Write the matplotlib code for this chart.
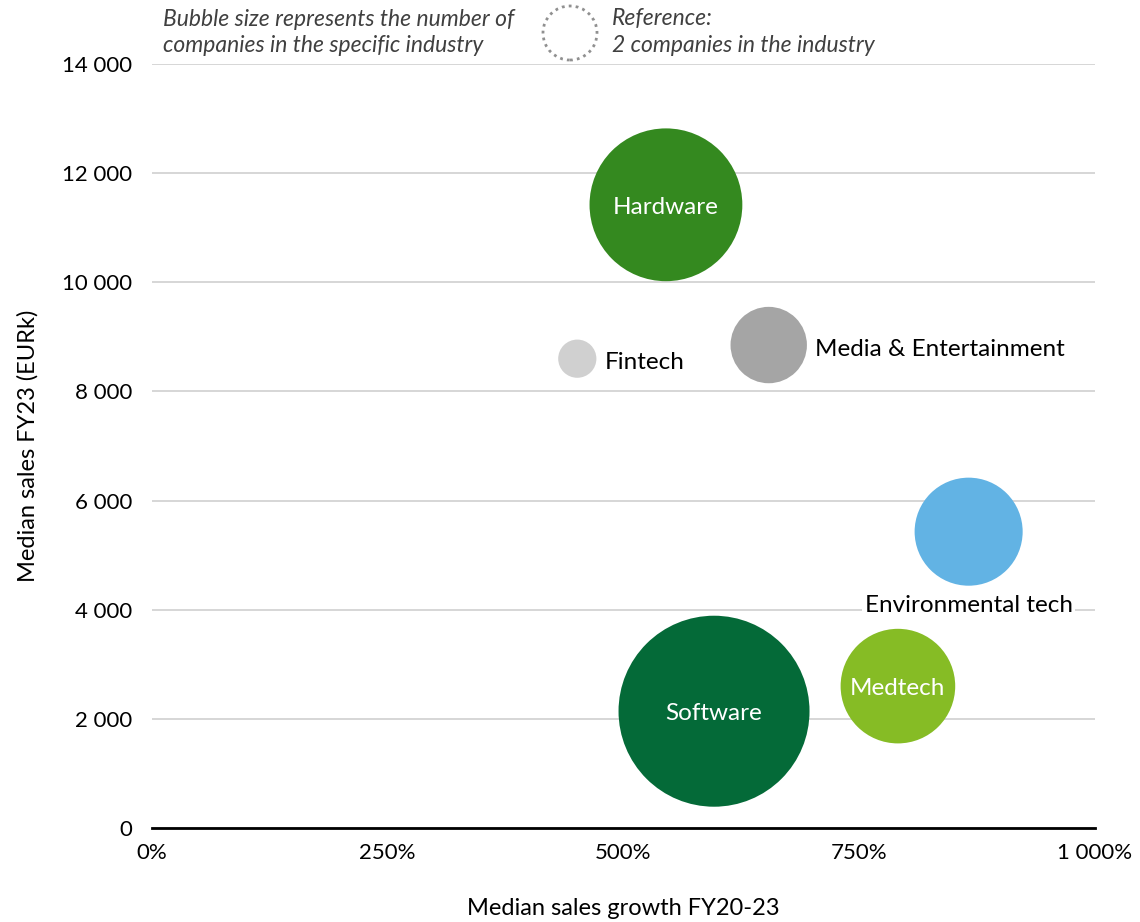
import numpy as np
import matplotlib.pyplot as plt
from matplotlib.patches import Circle
from matplotlib.ticker import FuncFormatter

# industries, growth (%), median sales (EURk), number of companies
industries = ['Hardware', 'Fintech', 'Media & Entertainment', 'Environmental tech', 'Medtech', 'Software']
growth = [545, 451, 654, 866, 791, 596]
sales = [11420, 8600, 8850, 5430, 2600, 2140]
companies = [16, 1, 4, 8, 9, 25]
colors = ['#34891F', '#D0D0D0', '#A5A5A5', '#62B3E4', '#86BC25', '#046A38']
reference_companies = 2

x_ticks = [0, 250, 500, 750, 1000]
y_ticks = [0, 2000, 4000, 6000, 8000, 10000, 12000, 14000]

plt.rcParams['font.family'] = ['Lato', 'DejaVu Sans']

W, H, DPI = 1140, 922, 100
fig = plt.figure(figsize=(W / DPI, H / DPI), dpi=DPI, facecolor='white')
ax = fig.add_axes([152 / W, 1 - 828 / H, (1095 - 152) / W, (828 - 64) / H])

# radius in pixels for one company
unit_px = 19.1


def bubble_area(n):
    r_pt = unit_px * np.sqrt(n) * 72 / DPI
    return (2 * r_pt) ** 2


ax.scatter(growth, sales, s=[bubble_area(n) for n in companies], c=colors,
           edgecolors='none', zorder=3, clip_on=False)

def thousands(v, pos=None):
    return f'{int(v):,}'.replace(',', ' ')

ax.set_xlim(0, 1000)
ax.set_ylim(0, 14000)
ax.set_xticks(x_ticks)
ax.set_yticks(y_ticks)
ax.xaxis.set_major_formatter(FuncFormatter(lambda v, p: thousands(v) + '%'))
ax.yaxis.set_major_formatter(FuncFormatter(thousands))
ax.tick_params(axis='both', length=0, labelsize=16, colors='black')
ax.tick_params(axis='x', pad=11)
ax.tick_params(axis='y', pad=14)

ax.grid(axis='y', color='#D0D0D0', linewidth=1.2, zorder=0)
ax.set_axisbelow(True)
for side in ['left', 'right', 'top']:
    ax.spines[side].set_visible(False)
ax.spines['bottom'].set_linewidth(2)
ax.spines['bottom'].set_zorder(4)

ax.set_xlabel('Median sales growth FY20-23', fontsize=17, labelpad=25)
ax.set_ylabel('Median sales FY23 (EURk)', fontsize=17, labelpad=17)

# bubble labels (nudged down a little)
label_fs = 17.5
dy = -2
for name, x, y, n in zip(industries, growth, sales, companies):
    r_pt = unit_px * np.sqrt(n) * 72 / DPI
    if name in ('Hardware', 'Software', 'Medtech'):
        ax.annotate(name, (x, y), xytext=(0, dy), textcoords='offset points',
                    ha='center', va='center', color='white', fontsize=label_fs, zorder=5)
    elif name == 'Environmental tech':
        ax.annotate(name, (x, y), xytext=(0, -r_pt - 14), textcoords='offset points',
                    ha='center', va='center', fontsize=label_fs, zorder=5,
                    bbox=dict(facecolor='white', edgecolor='none', pad=2))
    else:
        ax.annotate(name, (x, y), xytext=(r_pt + 6, dy - 1), textcoords='offset points',
                    ha='left', va='center', fontsize=label_fs, zorder=5)

# size legend at the top
note_kw = dict(fontsize=16.5, style='italic', color='#404040', va='center')
fig.text(163 / W, 1 - 19 / H, 'Bubble size represents the number of', **note_kw)
fig.text(163 / W, 1 - 45 / H, 'companies in the specific industry', **note_kw)
fig.text(612 / W, 1 - 19 / H, 'Reference:', **note_kw)
fig.text(612 / W, 1 - 45 / H, f'{reference_companies} companies in the industry', **note_kw)
ref_r = unit_px * np.sqrt(reference_companies) / DPI
fig.add_artist(Circle((570 / DPI, (H - 33) / DPI), ref_r, transform=fig.dpi_scale_trans,
                      fill=False, edgecolor='#909090', linestyle=(0, (1, 1.5)), linewidth=2))

fig.savefig('out.png', dpi=DPI)
